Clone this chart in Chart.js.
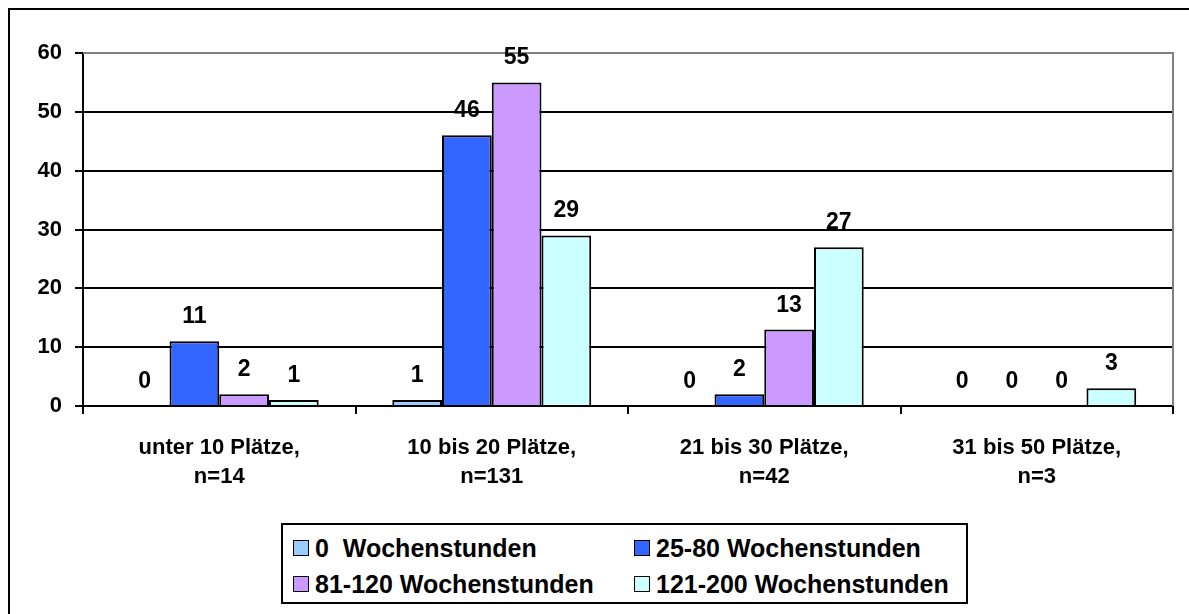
<!DOCTYPE html>
<html>
<head>
<meta charset="utf-8">
<script src="https://cdn.jsdelivr.net/npm/chart.js@4.4.1/dist/chart.umd.min.js"></script>
<style>
  html, body { margin: 0; padding: 0; background: #fff; }
  #wrap { position: relative; width: 1189px; height: 614px; overflow: hidden; }
  #frame { position: absolute; left: 8px; top: 8px; width: 1190px; height: 620px; border: 2px solid #000; box-sizing: border-box; }
  #chart { position: absolute; left: 0; top: 0; }
  #legend {
    position: absolute; left: 281px; top: 523px; width: 687px; height: 81px;
    border: 2px solid #000; box-sizing: border-box; background: #fff;
    font: bold 25px "Liberation Sans", Arial, sans-serif; color: #000;
  }
  .item { position: absolute; display: flex; align-items: center; height: 24px; }
  .sw { width: 14px; height: 14px; border: 1.5px solid #000; margin-right: 6px; }
</style>
</head>
<body>
<div id="wrap">
  <div id="frame"></div>
  <canvas id="chart" width="1189" height="614"></canvas>
  <div id="legend"></div>
</div>
<script>
// categories (two-line labels)
const categories = [
  ['unter 10 Plätze,', 'n=14'],
  ['10 bis 20 Plätze,', 'n=131'],
  ['21 bis 30 Plätze,', 'n=42'],
  ['31 bis 50 Plätze,', 'n=3']
];
const seriesNames = ['0  Wochenstunden', '25-80 Wochenstunden', '81-120 Wochenstunden', '121-200 Wochenstunden'];
const series0 = [0, 1, 0, 0];
const series25 = [11, 46, 2, 0];
const series81 = [2, 55, 13, 0];
const series121 = [1, 29, 27, 3];
const colors = ['#99CCFF', '#3366FF', '#CC99FF', '#CCFFFF'];
const yTicks = [0, 10, 20, 30, 40, 50, 60];

const FONT = '"Liberation Sans", Arial, sans-serif';
const allSeries = [series0, series25, series81, series121];

// value labels above bars
const valueLabels = {
  id: 'valueLabels',
  afterDatasetsDraw(chart) {
    const ctx = chart.ctx;
    ctx.save();
    ctx.font = 'bold 23px ' + FONT;
    ctx.fillStyle = '#000';
    ctx.textAlign = 'center';
    ctx.textBaseline = 'alphabetic';
    chart.data.datasets.forEach((ds, i) => {
      chart.getDatasetMeta(i).data.forEach((bar, j) => {
        ctx.fillText(String(ds.data[j]), bar.x, bar.y - 18);
      });
    });
    ctx.restore();
  }
};

// gray frame on top and right of plot area
const plotFrame = {
  id: 'plotFrame',
  beforeDatasetsDraw(chart) {
    const a = chart.chartArea, ctx = chart.ctx;
    ctx.save();
    ctx.strokeStyle = '#808080';
    ctx.lineWidth = 2;
    ctx.beginPath();
    ctx.moveTo(a.left, a.top);
    ctx.lineTo(a.right, a.top);
    ctx.lineTo(a.right, a.bottom);
    ctx.stroke();
    ctx.restore();
  }
};

new Chart(document.getElementById('chart').getContext('2d'), {
  type: 'bar',
  data: {
    labels: categories,
    datasets: allSeries.map((d, i) => ({
      label: seriesNames[i],
      data: d,
      backgroundColor: colors[i],
      borderColor: '#000',
      borderWidth: 2,
      categoryPercentage: 0.73,
      barPercentage: 1
    }))
  },
  options: {
    responsive: false,
    animation: false,
    layout: { padding: { left: 0, top: 53, right: 16, bottom: 108 } },
    plugins: { legend: { display: false }, tooltip: { enabled: false } },
    scales: {
      x: {
        grid: { display: true, drawOnChartArea: false, offset: true, tickLength: 8, color: '#000', lineWidth: 2 },
        border: { color: '#000', width: 2 },
        ticks: { color: '#000', font: { family: FONT, size: 22, weight: 'bold', lineHeight: 1.32 }, padding: 19, maxRotation: 0 },
        afterFit(s) { s.height = 100; }
      },
      y: {
        min: 0, max: 60,
        afterBuildTicks(s) { s.ticks = yTicks.map(v => ({ value: v })); },
        grid: {
          tickLength: 8, lineWidth: 2,
          color: c => (c.tick && c.tick.value === 60) ? '#808080' : '#000',
          tickColor: '#000'
        },
        border: { color: '#000', width: 2 },
        ticks: { color: '#000', font: { family: FONT, size: 22, weight: 'bold' }, padding: 13 },
        afterFit(s) { s.width = 83; }
      }
    }
  },
  plugins: [plotFrame, valueLabels]
});

// legend, two per row
const legend = document.getElementById('legend');
const pos = [[10, 11], [351, 11], [10, 47], [351, 47]];
seriesNames.forEach((name, i) => {
  const it = document.createElement('div');
  it.className = 'item';
  it.style.left = pos[i][0] + 'px';
  it.style.top = pos[i][1] + 'px';
  const sw = document.createElement('span');
  sw.className = 'sw';
  sw.style.background = colors[i];
  const tx = document.createElement('span');
  tx.textContent = name;
  tx.style.whiteSpace = 'pre';
  it.appendChild(sw);
  it.appendChild(tx);
  legend.appendChild(it);
});
</script>
</body>
</html>
